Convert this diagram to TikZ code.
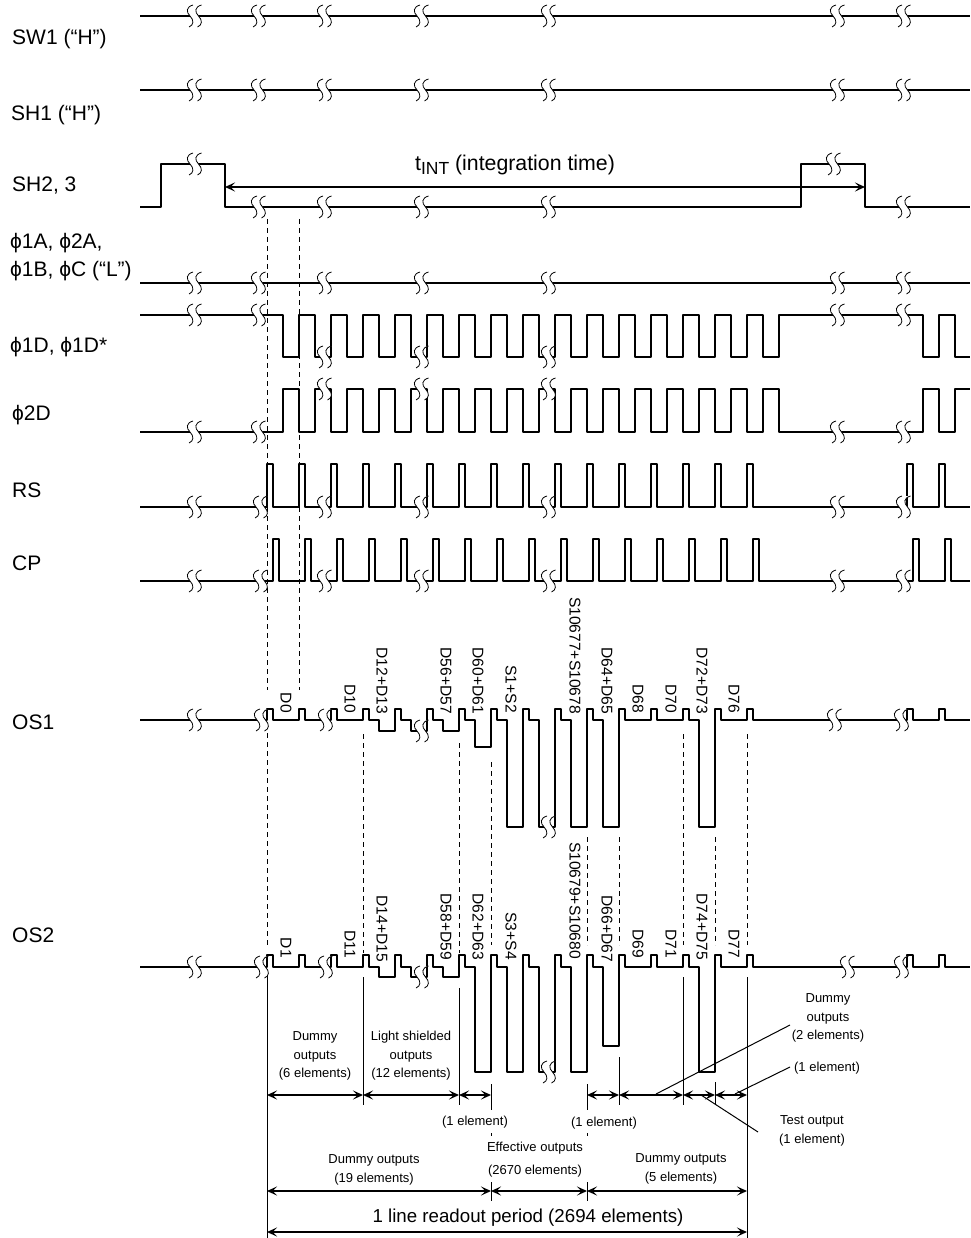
\documentclass[tikz,border=0pt]{standalone}
\usepackage{fontspec}
\setmainfont{Liberation Sans}
\usetikzlibrary{arrows.meta}
\tikzset{
  sig/.style={line width=2.2pt, line join=round},
  dimline/.style={line width=1.7pt, {Stealth[length=10pt,width=9pt,inset=4.5pt]}-{Stealth[length=10pt,width=9pt,inset=4.5pt]}},
  thinline/.style={line width=1pt},
  dashline/.style={line width=1pt, dash pattern=on 5pt off 4pt},
  biglabel/.style={inner sep=0pt, anchor=base west, font=\fontsize{21}{24}\selectfont},
  readlabel/.style={inner sep=0pt, rotate=-90, anchor=east, font=\fontsize{15.6}{18}\selectfont},
  smalllabel/.style={inner sep=0pt, align=center, font=\fontsize{13}{18.5}\selectfont},
  brk/.pic={
    \fill[white] (-1,-11) .. controls (-8,-9) and (-8,-4) .. (-4,0) .. controls (0,4) and (0,9) .. (-5,11)
      -- (3.5,11) .. controls (8.5,9) and (8.5,4) .. (4.5,0) .. controls (0.5,-4) and (0.5,-9) .. (7.5,-11) -- cycle;
    \draw[line width=0.8pt] (-1,-11) .. controls (-8,-9) and (-8,-4) .. (-4,0) .. controls (0,4) and (0,9) .. (-5,11);
    \draw[line width=0.8pt] (7.5,-11) .. controls (0.5,-9) and (0.5,-4) .. (4.5,0) .. controls (8.5,4) and (8.5,9) .. (3.5,11);
  }
}
\begin{document}
\begin{tikzpicture}[x=1pt, y=-1pt]
  \useasboundingbox (0,0) rectangle (970,1238);
  % signal names
  \node[biglabel] (sw1) at (12,45) {SW1 (“H”)};
  \node[biglabel] (sh1) at (11,121) {SH1 (“H”)};
  \node[biglabel] (sh2) at (12,192) {SH2, 3};
  \node[biglabel] (phia) at (10,249) {ϕ1A, ϕ2A,};
  \node[biglabel] (phib) at (10,277) {ϕ1B, ϕC (“L”)};
  \node[biglabel] (phi1d) at (10,352) {ϕ1D, ϕ1D*};
  \node[biglabel] (phi2d) at (12,420) {ϕ2D};
  \node[biglabel] (rs) at (12,497) {RS};
  \node[biglabel] (cp) at (12,570) {CP};
  \node[biglabel] (os1) at (12,729) {OS1};
  \node[biglabel] (os2) at (12,942) {OS2};
  % dashed guides
  \draw[dashline] (267,219) -- (267,690);
  \draw[dashline] (299,219) -- (299,690);
  \draw[dashline] (267,733) -- (267,945);
  \draw[dashline] (363,734) -- (363,953);
  \draw[dashline] (459,743) -- (459,953);
  \draw[dashline] (491,762) -- (491,945);
  \draw[dashline] (587,837) -- (587,945);
  \draw[dashline] (619,837) -- (619,945);
  \draw[dashline] (683,734) -- (683,945);
  \draw[dashline] (715,837) -- (715,945);
  \draw[dashline] (747,734) -- (747,945);
  % solid guides
  \draw[thinline] (267,975) -- (267,1238);
  \draw[thinline] (363,977) -- (363,1105);
  \draw[thinline] (459,988) -- (459,1105);
  \draw[thinline] (491,1084) -- (491,1110);
  \draw[thinline] (491,1133) -- (491,1136);
  \draw[thinline] (491,1182) -- (491,1201);
  \draw[thinline] (587,1084) -- (587,1110);
  \draw[thinline] (587,1133) -- (587,1136);
  \draw[thinline] (587,1182) -- (587,1201);
  \draw[thinline] (619,1057) -- (619,1105);
  \draw[thinline] (683,977) -- (683,1105);
  \draw[thinline] (715,1082) -- (715,1105);
  \draw[thinline] (747,977) -- (747,1238);
  % flat lines
  \draw[sig] (140,16) -- (970,16);
  \draw[sig] (140,90) -- (970,90);
  \draw[sig] (140,207) -- (161,207) -- (161,164) -- (225,164) -- (225,207) -- (801,207) -- (801,164) -- (865,164) -- (865,207) -- (970,207);
  \draw[sig] (140,283) -- (970,283);
  % clocks
  \draw[sig] (140,315) -- (283,315) foreach \k in {0,...,15} { -- ++(0,42) -- ++(16,0) -- ++(0,-42) -- ++(16,0) }
    -- (923,315) -- (923,357) -- (939,357) -- (939,315) -- (955,315) -- (955,357) -- (970,357);
  \draw[sig] (140,432) -- (283,432) foreach \k in {0,...,15} { -- ++(0,-43) -- ++(16,0) -- ++(0,43) -- ++(16,0) }
    -- (923,432) -- (923,389) -- (939,389) -- (939,432) -- (955,432) -- (955,389) -- (970,389);
  \draw[sig] (140,507) foreach \x in {267,299,...,747,907,939} { -- (\x,507) -- (\x,464) -- (\x+6,464) -- (\x+6,507) } -- (970,507);
  \draw[sig] (140,581) foreach \x in {273,305,...,753,913,945} { -- (\x,581) -- (\x,539) -- (\x+6,539) -- (\x+6,581) } -- (970,581);
  % OS1
  \draw[sig] (140,720) foreach \x in {267,299,331,363} { -- (\x,720) -- (\x,709) -- (\x+6,709) -- (\x+6,720) }
    -- (379,720) -- (379,731) -- (395,731) -- (395,709) -- (401,709) -- (401,720) -- (411,720) -- (411,731)
    -- (427,731) -- (427,709) -- (433,709) -- (433,720) -- (443,720) -- (443,731) -- (459,731) -- (459,709)
    -- (465,709) -- (465,720) -- (475,720) -- (475,747) -- (491,747) -- (491,709) -- (497,709) -- (497,720)
    -- (507,720) -- (507,827) -- (523,827) -- (523,709) -- (529,709) -- (529,720) -- (539,720) -- (539,827)
    -- (555,827) -- (555,709) -- (561,709) -- (561,720) -- (571,720) -- (571,827) -- (587,827) -- (587,709)
    -- (593,709) -- (593,720) -- (603,720) -- (603,827) -- (619,827) -- (619,709) -- (625,709) -- (625,720)
    -- (651,720) -- (651,709) -- (657,709) -- (657,720) -- (683,720) -- (683,709) -- (689,709) -- (689,720)
    -- (699,720) -- (699,827) -- (715,827) -- (715,709) -- (721,709) -- (721,720) -- (747,720) -- (747,709)
    -- (753,709) -- (753,720) foreach \x in {907,939} { -- (\x,720) -- (\x,709) -- (\x+6,709) -- (\x+6,720) } -- (970,720);
  % OS2
  \draw[sig] (140,967) foreach \x in {267,299,331,363} { -- (\x,967) -- (\x,955) -- (\x+6,955) -- (\x+6,967) }
    -- (379,967) -- (379,977) -- (395,977) -- (395,955) -- (401,955) -- (401,967) -- (411,967) -- (411,977)
    -- (427,977) -- (427,955) -- (433,955) -- (433,967) -- (443,967) -- (443,977) -- (459,977) -- (459,955)
    -- (465,955) -- (465,967) -- (475,967) -- (475,1072) -- (491,1072) -- (491,955) -- (497,955) -- (497,967)
    -- (507,967) -- (507,1072) -- (523,1072) -- (523,955) -- (529,955) -- (529,967) -- (539,967) -- (539,1072)
    -- (555,1072) -- (555,955) -- (561,955) -- (561,967) -- (571,967) -- (571,1072) -- (587,1072) -- (587,955)
    -- (593,955) -- (593,967) -- (603,967) -- (603,1046) -- (619,1046) -- (619,955) -- (625,955) -- (625,967)
    -- (651,967) -- (651,955) -- (657,955) -- (657,967) -- (683,967) -- (683,955) -- (689,955) -- (689,967)
    -- (699,967) -- (699,1072) -- (715,1072) -- (715,955) -- (721,955) -- (721,967) -- (747,967) -- (747,955)
    -- (753,955) -- (753,967) foreach \x in {907,939} { -- (\x,967) -- (\x,955) -- (\x+6,955) -- (\x+6,967) } -- (970,967);
  % breaks
  \foreach \y in {16,90,283} {
    \foreach \x in {194,258,324,421,548,837,903} { \path (\x,\y) pic {brk}; }
  }
  \path (194,164) pic {brk};
  \foreach \x in {258,324,421,548,903} { \path (\x,207) pic {brk}; }
  \path (833,164) pic {brk};
  \foreach \x in {194,258,837,903} { \path (\x,315) pic {brk}; }
  \foreach \x in {324,421,548} { \path (\x,357) pic {brk}; }
  \foreach \x in {194,258,837,903} { \path (\x,432) pic {brk}; }
  \foreach \x in {324,421,548} { \path (\x,389) pic {brk}; }
  \foreach \x in {194,260,324,421,548,837,903} { \path (\x,507) pic {brk}; }
  \foreach \x in {194,260,324,421,548,837,903} { \path (\x,581) pic {brk}; }
  \foreach \x in {194,261,325,834,901} { \path (\x,720) pic {brk}; }
  \path (421,731) pic {brk};
  \path (548,827) pic {brk};
  \foreach \x in {194,261,325,847,901} { \path (\x,967) pic {brk}; }
  \path (421,977) pic {brk};
  \path (548,1072) pic {brk};
  % integration time
  \draw[dimline] (225,187) -- (865,187);
  \node[inner sep=0pt, anchor=base, font=\fontsize{21.3}{24}\selectfont] (tint) at (515,171) {t\raisebox{-3.5pt}{\fontsize{17.5}{20}\selectfont INT} (integration time)};
  % OS1 outputs
  \node[readlabel] (d0) at (286,713) {D0};
  \node[readlabel] (d10) at (350,713) {D10};
  \node[readlabel] (d12) at (382,714) {D12+D13};
  \node[readlabel] (d56) at (446,714) {D56+D57};
  \node[readlabel] (d60) at (478,714) {D60+D61};
  \node[readlabel] (s1) at (511,713) {S1+S2};
  \node[readlabel] (s10677) at (575,714) {S10677+S10678};
  \node[readlabel] (d64) at (607,714) {D64+D65};
  \node[readlabel] (d68) at (638,713) {D68};
  \node[readlabel] (d70) at (671,713) {D70};
  \node[readlabel] (d72) at (702,714) {D72+D73};
  \node[readlabel] (d76) at (734,713) {D76};
  % OS2 outputs
  \node[readlabel] (d1) at (286,958) {D1};
  \node[readlabel] (d11) at (350,958) {D11};
  \node[readlabel] (d14) at (382,962) {D14+D15};
  \node[readlabel] (d58) at (446,960) {D58+D59};
  \node[readlabel] (d62) at (478,960) {D62+D63};
  \node[readlabel] (s3) at (511,960) {S3+S4};
  \node[readlabel] (s10679) at (575,959) {S10679+S10680};
  \node[readlabel] (d66) at (607,962) {D66+D67};
  \node[readlabel] (d69) at (638,958) {D69};
  \node[readlabel] (d71) at (671,958) {D71};
  \node[readlabel] (d74) at (702,960) {D74+D75};
  \node[readlabel] (d77) at (734,958) {D77};
  % first row of spans
  \draw[dimline] (267,1095) -- (363,1095);
  \draw[dimline] (363,1095) -- (459,1095);
  \draw[dimline] (459,1095) -- (491,1095);
  \draw[dimline] (587,1095) -- (619,1095);
  \draw[dimline] (619,1095) -- (683,1095);
  \draw[dimline] (683,1095) -- (715,1095);
  \draw[dimline] (715,1095) -- (747,1095);
  % second row of spans
  \draw[dimline] (267,1191) -- (491,1191);
  \draw[dimline] (491,1191) -- (587,1191);
  \draw[dimline] (587,1191) -- (747,1191);
  % whole line
  \draw[dimline] (267,1232) -- (747,1232);
  % span texts
  \node[smalllabel] (dummysix) at (315,1056) {Dummy\\outputs\\(6 elements)};
  \node[smalllabel] (shielded) at (411,1056) {Light shielded\\outputs\\(12 elements)};
  \node[smalllabel] (onea) at (475,1122) {(1 element)};
  \node[smalllabel] (oneb) at (604,1123) {(1 element)};
  \node[smalllabel, font=\fontsize{13}{23}\selectfont] (effective) at (535,1160) {Effective outputs\\(2670 elements)};
  \node[smalllabel] (dummynineteen) at (374,1170) {Dummy outputs\\(19 elements)};
  \node[smalllabel] (dummyfive) at (681,1169) {Dummy outputs\\(5 elements)};
  \node[inner sep=0pt, font=\fontsize{18.7}{22}\selectfont] (readout) at (528,1218) {1 line readout period (2694 elements)};
  \node[smalllabel] (dummytwo) at (828,1018) {Dummy\\outputs\\(2 elements)};
  \node[smalllabel] (onec) at (827,1068) {(1 element)};
  \node[smalllabel] (test) at (812,1131) {Test output\\(1 element)};
  % leaders
  \coordinate (leada) at (656,1094);
  \coordinate (leadb) at (735,1094);
  \coordinate (leadc) at (701,1095);
  \draw[thinline] (leada) -- (790,1025);
  \draw[thinline] (leadb) -- (790,1067);
  \draw[thinline] (leadc) -- (758,1132);
\end{tikzpicture}
\end{document}
